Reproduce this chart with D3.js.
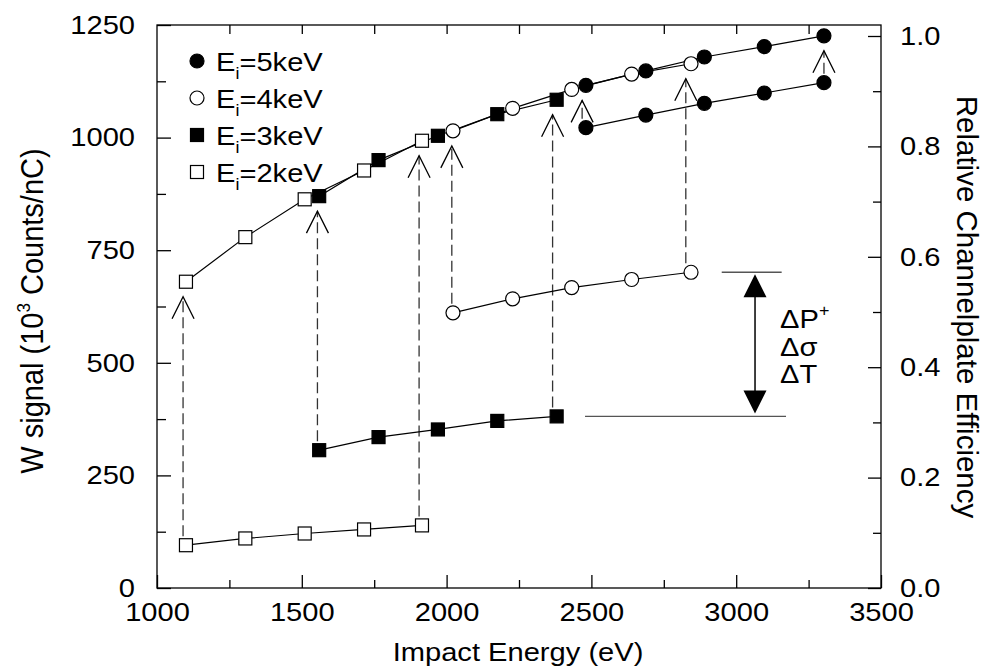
<!DOCTYPE html>
<html>
<head>
<meta charset="utf-8">
<script src="https://cdn.jsdelivr.net/npm/d3@7"></script>
<style>
  body { margin: 0; background: #fff; }
  svg { font-family: "Liberation Sans", Arial, Helvetica, sans-serif; }
  .axis path, .axis line { stroke: #000; stroke-width: 1.3; }
  .axis text { font-size: 26px; fill: #000; font-family: "Liberation Sans", Arial, sans-serif; }
</style>
</head>
<body>
<svg id="chart" width="986" height="668"></svg>
<script>
// Impact energy (eV) and W signal (10^3 counts/nC).
const e2 = [1100, 1305, 1510, 1715, 1915];
const w2Low = [95, 110, 121, 130, 139];
const w2High = [680, 779, 863, 927, 993];

const e3 = [1560, 1765, 1970, 2175, 2380];
const w3Low = [306, 335, 352, 371, 381];
const w3High = [870, 950, 1004, 1052, 1084];

const e4 = [2022, 2228, 2432, 2639, 2844];
const w4Low = [611, 642, 667, 685, 701];
const w4High = [1015, 1065, 1107, 1141, 1164];

const e5 = [2481, 2688, 2890, 3097, 3303];
const w5Low = [1022, 1050, 1076, 1099, 1122];
const w5High = [1116, 1148, 1179, 1202, 1226];

// dashed "shift" arrows: energy, from (lower curve) -> to (upper curve)
const arrowE = [1090, 1905, 1554, 2366, 2018, 2826, 2468, 3303];
const arrowFrom = [95, 139, 306, 381, 611, 701, 1022, 1122];
const arrowTo = [680, 993, 870, 1084, 1015, 1164, 1116, 1226];

// ΔP+ / Δσ / ΔT bracket
const deltaTop = 701, deltaBottom = 381;
const deltaTopSpan = [2950, 3157], deltaBottomSpan = [2478, 3172];
const deltaE = 3065;

const legendLabels = ["5keV", "4keV", "3keV", "2keV"];
const xTicks = [1000, 1500, 2000, 2500, 3000, 3500];
const yTicks = [0, 250, 500, 750, 1000, 1250];
const yRTicks = [0, 0.2, 0.4, 0.6, 0.8, 1.0];

const svg = d3.select("#chart");
const L = 157, R = 881, T = 25, B = 588;
const SX = 1.12; // the source figure's type is a bit wider than Liberation Sans

const x = d3.scaleLinear().domain([1000, 3500]).range([L, R]);
const y = d3.scaleLinear().domain([0, 1250]).range([B, T]);
const yR = d3.scaleLinear().domain([0, 1]).range([B, 36]);

// frame
svg.append("rect").attr("x", L).attr("y", T).attr("width", R - L).attr("height", B - T)
  .attr("fill", "none").attr("stroke", "#000").attr("stroke-width", 1.3);

// minor ticks first (no labels), then majors
svg.append("g").attr("class", "axis").attr("transform", `translate(0,${B})`)
  .call(d3.axisBottom(x).tickValues(d3.range(1250, 3500, 500)).tickSizeInner(-8).tickSizeOuter(0).tickFormat(""));
svg.append("g").attr("class", "axis").attr("transform", `translate(0,${B})`)
  .call(d3.axisBottom(x).tickValues(xTicks).tickSizeInner(-13).tickSizeOuter(0).tickPadding(15).tickFormat(d3.format("d")));
svg.append("g").attr("class", "axis").attr("transform", `translate(0,${T})`)
  .call(d3.axisTop(x).tickValues(d3.range(1250, 3500, 250)).tickSizeInner(-9).tickSizeOuter(0).tickFormat(""));

svg.append("g").attr("class", "axis").attr("transform", `translate(${L},0)`)
  .call(d3.axisLeft(y).tickValues(d3.range(125, 1250, 250)).tickSizeInner(-9).tickSizeOuter(0).tickFormat(""));
svg.append("g").attr("class", "axis").attr("transform", `translate(${L},0)`)
  .call(d3.axisLeft(y).tickValues(yTicks).tickSizeInner(-14).tickSizeOuter(0).tickPadding(22 / SX).tickFormat(d3.format("d")));

svg.append("g").attr("class", "axis").attr("transform", `translate(${R},0)`)
  .call(d3.axisRight(yR).tickValues(d3.range(0.1, 1.0, 0.2)).tickSizeInner(-8).tickSizeOuter(0).tickFormat(""));
svg.append("g").attr("class", "axis").attr("transform", `translate(${R},0)`)
  .call(d3.axisRight(yR).tickValues(yRTicks).tickSizeInner(-13).tickSizeOuter(0).tickPadding(19 / SX).tickFormat(d3.format(".1f")));

svg.selectAll(".axis .domain").remove();
svg.selectAll(".axis text").attr("transform", `scale(${SX},1)`);

// horizontal text helper: anchor point (px, py), widened by SX
function htext(g, px, py, size, anchor) {
  return g.append("text").attr("transform", `translate(${px},${py}) scale(${SX},1)`)
    .attr("font-size", size).attr("text-anchor", anchor || "start");
}

// axis titles
htext(svg, 518, 661, 26, "middle").text("Impact Energy (eV)");

const lt = svg.append("text").attr("transform", `translate(43,311) scale(1.06,1) rotate(-90)`)
  .attr("text-anchor", "middle").attr("font-size", 29);
lt.append("tspan").text("W signal (10");
lt.append("tspan").attr("font-size", 17).attr("dy", -12).text("3");
lt.append("tspan").attr("dy", 12).text(" Counts/nC)");

svg.append("text").attr("transform", `translate(957,307) rotate(90)`)
  .attr("text-anchor", "middle").attr("font-size", 29.5).text("Relative Channelplate Efficiency");

// dashed shift arrows
const arrows = arrowE.map((e, i) => ({ e, from: arrowFrom[i], to: arrowTo[i] }));
const ag = svg.append("g");
ag.selectAll("line").data(arrows).join("line")
  .attr("x1", d => x(d.e)).attr("x2", d => x(d.e))
  .attr("y1", d => y(d.from) - 9).attr("y2", d => y(d.to) + 15)
  .attr("stroke", "#333").attr("stroke-width", 1.3).attr("stroke-dasharray", "11,5");
ag.selectAll("path").data(arrows).join("path")
  .attr("d", d => {
    const cx = x(d.e), ty = y(d.to) + 15;
    return `M${cx - 11},${ty + 22}L${cx},${ty}L${cx + 11},${ty + 22}`;
  })
  .attr("fill", "none").attr("stroke", "#000").attr("stroke-width", 1.3);

// series
const series = [
  { e: e2, w: w2Low, shape: "square", fill: "#fff" },
  { e: e2, w: w2High, shape: "square", fill: "#fff" },
  { e: e3, w: w3Low, shape: "square", fill: "#000" },
  { e: e3, w: w3High, shape: "square", fill: "#000" },
  { e: e4, w: w4Low, shape: "circle", fill: "#fff" },
  { e: e4, w: w4High, shape: "circle", fill: "#fff" },
  { e: e5, w: w5Low, shape: "circle", fill: "#000" },
  { e: e5, w: w5High, shape: "circle", fill: "#000" },
];

const line = d3.line().x(d => x(d[0])).y(d => y(d[1]));
series.forEach(s => {
  const pts = s.e.map((e, i) => [e, s.w[i]]);
  svg.append("path").attr("d", line(pts)).attr("fill", "none")
    .attr("stroke", "#000").attr("stroke-width", 1.2);
});

function marker(g, shape, fill, cx, cy) {
  if (shape === "circle") {
    g.append("circle").attr("cx", cx).attr("cy", cy).attr("r", 7)
      .attr("fill", fill).attr("stroke", "#000").attr("stroke-width", 1.2);
  } else {
    g.append("rect").attr("x", cx - 6.5).attr("y", cy - 6.5).attr("width", 13).attr("height", 13)
      .attr("fill", fill).attr("stroke", "#000").attr("stroke-width", 1.2);
  }
}
const mg = svg.append("g");
series.forEach(s => s.e.forEach((e, i) => marker(mg, s.shape, s.fill, x(e), y(s.w[i]))));

// ΔP+ bracket
const bg = svg.append("g");
bg.append("line").attr("x1", x(deltaTopSpan[0])).attr("x2", x(deltaTopSpan[1]))
  .attr("y1", y(deltaTop)).attr("y2", y(deltaTop)).attr("stroke", "#555").attr("stroke-width", 1.3);
bg.append("line").attr("x1", x(deltaBottomSpan[0])).attr("x2", x(deltaBottomSpan[1]))
  .attr("y1", y(deltaBottom)).attr("y2", y(deltaBottom)).attr("stroke", "#555").attr("stroke-width", 1.3);
const ax = x(deltaE), ay1 = y(deltaTop) + 2, ay2 = y(deltaBottom) - 3;
bg.append("line").attr("x1", ax).attr("x2", ax).attr("y1", ay1 + 10).attr("y2", ay2 - 10)
  .attr("stroke", "#000").attr("stroke-width", 1.5);
bg.append("path").attr("d", `M${ax},${ay1}L${ax - 11.5},${ay1 + 23}L${ax + 11.5},${ay1 + 23}Z`).attr("fill", "#000");
bg.append("path").attr("d", `M${ax},${ay2}L${ax - 11.5},${ay2 - 23}L${ax + 11.5},${ay2 - 23}Z`).attr("fill", "#000");

const tx = ax + 25;
const t1 = htext(bg, tx, 328, 26);
t1.append("tspan").text("\u0394P");
t1.append("tspan").attr("font-size", 16).attr("dy", -12).text("+");
htext(bg, tx, 356, 26).text("\u0394\u03c3");
htext(bg, tx, 383, 26).text("\u0394T");

// legend
const legShapes = [["circle", "#000"], ["circle", "#fff"], ["square", "#000"], ["square", "#fff"]];
const lg = svg.append("g");
legendLabels.forEach((lab, i) => {
  const ry = 61 + i * 37;
  marker(lg, legShapes[i][0], legShapes[i][1], 197, ry);
  const t = htext(lg, 216, ry + 10, 26);
  t.append("tspan").text("E");
  t.append("tspan").attr("font-size", 16).attr("dy", 8).text("i");
  t.append("tspan").attr("dy", -8).text("=" + lab);
});
</script>
</body>
</html>
